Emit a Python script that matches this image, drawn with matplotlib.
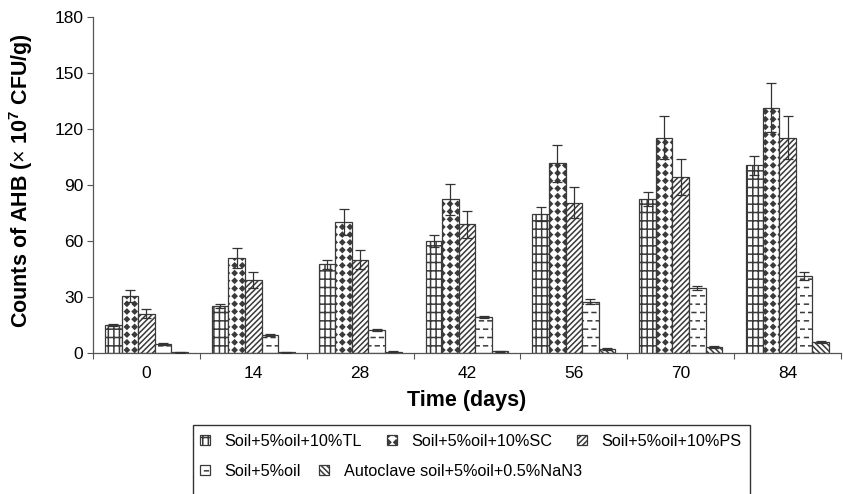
import numpy as np
import matplotlib
matplotlib.use("Agg")
import matplotlib.pyplot as plt
import matplotlib.hatch as mhatch
from matplotlib.path import Path
from matplotlib.patches import Rectangle

# ---------------- data ----------------
days = ["0", "14", "28", "42", "56", "70", "84"]
series_names = ["Soil+5%oil+10%TL", "Soil+5%oil+10%SC", "Soil+5%oil+10%PS",
                "Soil+5%oil", "Autoclave soil+5%oil+0.5%NaN3"]
tl = [15, 25, 47.5, 60, 74.5, 82.5, 100.5]
tl_err = [0.7, 1, 2.3, 3, 3.8, 3.9, 4.9]
sc = [30.5, 51, 70, 82.3, 101.6, 115.3, 131.4]
sc_err = [3.2, 5.3, 7, 8.4, 9.8, 11.6, 13]
ps = [21, 39, 50, 69, 80.5, 94.4, 115.3]
ps_err = [2.5, 4.3, 5, 7.2, 8.2, 9.5, 11.6]
soil = [4.8, 9.5, 12.3, 19.3, 27.5, 34.7, 41.2]
soil_err = [0.4, 0.5, 0.6, 0.7, 1.2, 1.2, 2.2]
auto = [0.3, 0.3, 0.8, 0.9, 2.1, 3.4, 5.9]
auto_err = [0.2, 0.2, 0.3, 0.3, 0.4, 0.5, 0.3]
y_ticks = [0, 30, 60, 90, 120, 150, 180]

# ---------------- custom hatches ----------------
class DiamondDots(mhatch.HatchPatternBase):
    filled = True

    def __init__(self, hatch, density):
        self.num_rows = int(round(hatch.count('.') * density * 1.1))
        self.num_vertices = self.num_rows ** 2 * 5

    def set_vertices_and_codes(self, vertices, codes):
        n = self.num_rows
        s = 0.30 / n
        shape = np.array([[0, -s], [s, 0], [0, s], [-s, 0], [0, -s]])
        k = 0
        for r in range(n):
            for c in range(n):
                vertices[k:k + 5] = shape + [(c + 0.5) / n, (r + 0.5) / n]
                codes[k:k + 5] = [Path.MOVETO, Path.LINETO, Path.LINETO,
                                  Path.LINETO, Path.CLOSEPOLY]
                k += 5


class Dashes(mhatch.HatchPatternBase):
    def __init__(self, hatch, density):
        self.num_rows = hatch.count('*') * density
        self.num_vertices = self.num_rows ** 2 * 2

    def set_vertices_and_codes(self, vertices, codes):
        n = self.num_rows
        L = 0.45 / n
        k = 0
        for r in range(n):
            for c in range(n):
                x0 = (c + 0.5 * (r % 2) + 0.05) / n
                y0 = (r + 0.5) / n
                vertices[k] = [x0, y0]
                vertices[k + 1] = [x0 + L, y0]
                codes[k] = Path.MOVETO
                codes[k + 1] = Path.LINETO
                k += 2


mhatch._hatch_types = [DiamondDots if t is mhatch.SmallFilledCircles
                       else Dashes if t is mhatch.Stars else t
                       for t in mhatch._hatch_types]

# ---------------- style ----------------
plt.rcParams['font.family'] = ['Liberation Sans', 'DejaVu Sans']
plt.rcParams['mathtext.fontset'] = 'custom'
plt.rcParams['mathtext.rm'] = 'Liberation Sans'
plt.rcParams['mathtext.bf'] = 'Liberation Sans:bold'
plt.rcParams['hatch.color'] = '#333333'
plt.rcParams['hatch.linewidth'] = 1.1

W, H = 843, 494
fig = plt.figure(figsize=(W / 100, H / 100), dpi=100)
ax = fig.add_axes([93 / W, 1 - 353 / H, 748 / W, 336 / H])

edge = '#3a3a3a'
values = [tl, sc, ps, soil, auto]
errors = [tl_err, sc_err, ps_err, soil_err, auto_err]
hatches = ['++|', '..', '//////', '**', '\\\\\\\\\\\\']
x = np.arange(len(days))
bw = 0.155
containers = []
for j, (vals, errs, h, name) in enumerate(zip(values, errors, hatches, series_names)):
    bc = ax.bar(x + (j - 2) * bw, vals, width=bw, color='white', edgecolor=edge,
                linewidth=0.9, hatch=h, label=name, zorder=2,
                yerr=errs, capsize=3.4,
                error_kw=dict(ecolor='#333333', elinewidth=0.9, capthick=0.9, zorder=3))
    containers.append(bc)

ax.set_xlim(-0.5, len(days) - 0.5)
ax.set_ylim(0, 180)
ax.set_yticks(y_ticks)
ax.set_xticks(x)
ax.set_xticklabels(days)
ax.set_xticks(np.arange(len(days) + 1) - 0.5, minor=True)
ax.tick_params(axis='x', which='major', length=0, pad=9, labelsize=12.5)
ax.tick_params(axis='x', which='minor', length=4, width=0.8, color='#555555', direction='out')
ax.tick_params(axis='y', length=4, width=0.8, color='#555555', pad=3, labelsize=12.5)
for s in ['top', 'right']:
    ax.spines[s].set_visible(False)
for s in ['left', 'bottom']:
    ax.spines[s].set_color('#555555')
    ax.spines[s].set_linewidth(0.9)

ax.set_ylabel(r'Counts of AHB ($\times$ 10$^{\mathbf{7}}$ CFU/g)', fontsize=15.5,
              fontweight='bold')
ax.yaxis.set_label_coords(-0.078, 0.513)
ax.set_xlabel('Time (days)', fontsize=15.5, fontweight='bold')
ax.xaxis.set_label_coords(0.5, -0.11)

# ---------------- legend ----------------
fig.patches.append(Rectangle((193 / W, -0.1), (750 - 193) / W, 0.1 + 1 - 425 / H,
                             transform=fig.transFigure, fill=False,
                             edgecolor='#333333', linewidth=1.0))
lkw = dict(frameon=False, fontsize=11.7, handlelength=0.62, handleheight=0.62,
           handletextpad=0.9, borderpad=0, borderaxespad=0, loc='center left',
           bbox_transform=fig.transFigure)
leg1 = fig.legend(containers[:3], series_names[:3], ncol=3, columnspacing=1.5,
                  bbox_to_anchor=(200 / W, 1 - 441 / H), **lkw)
leg2 = fig.legend(containers[3:], series_names[3:], ncol=2, columnspacing=1.1,
                  bbox_to_anchor=(200 / W, 1 - 471 / H), **lkw)

fig.savefig('out.png', dpi=100)
